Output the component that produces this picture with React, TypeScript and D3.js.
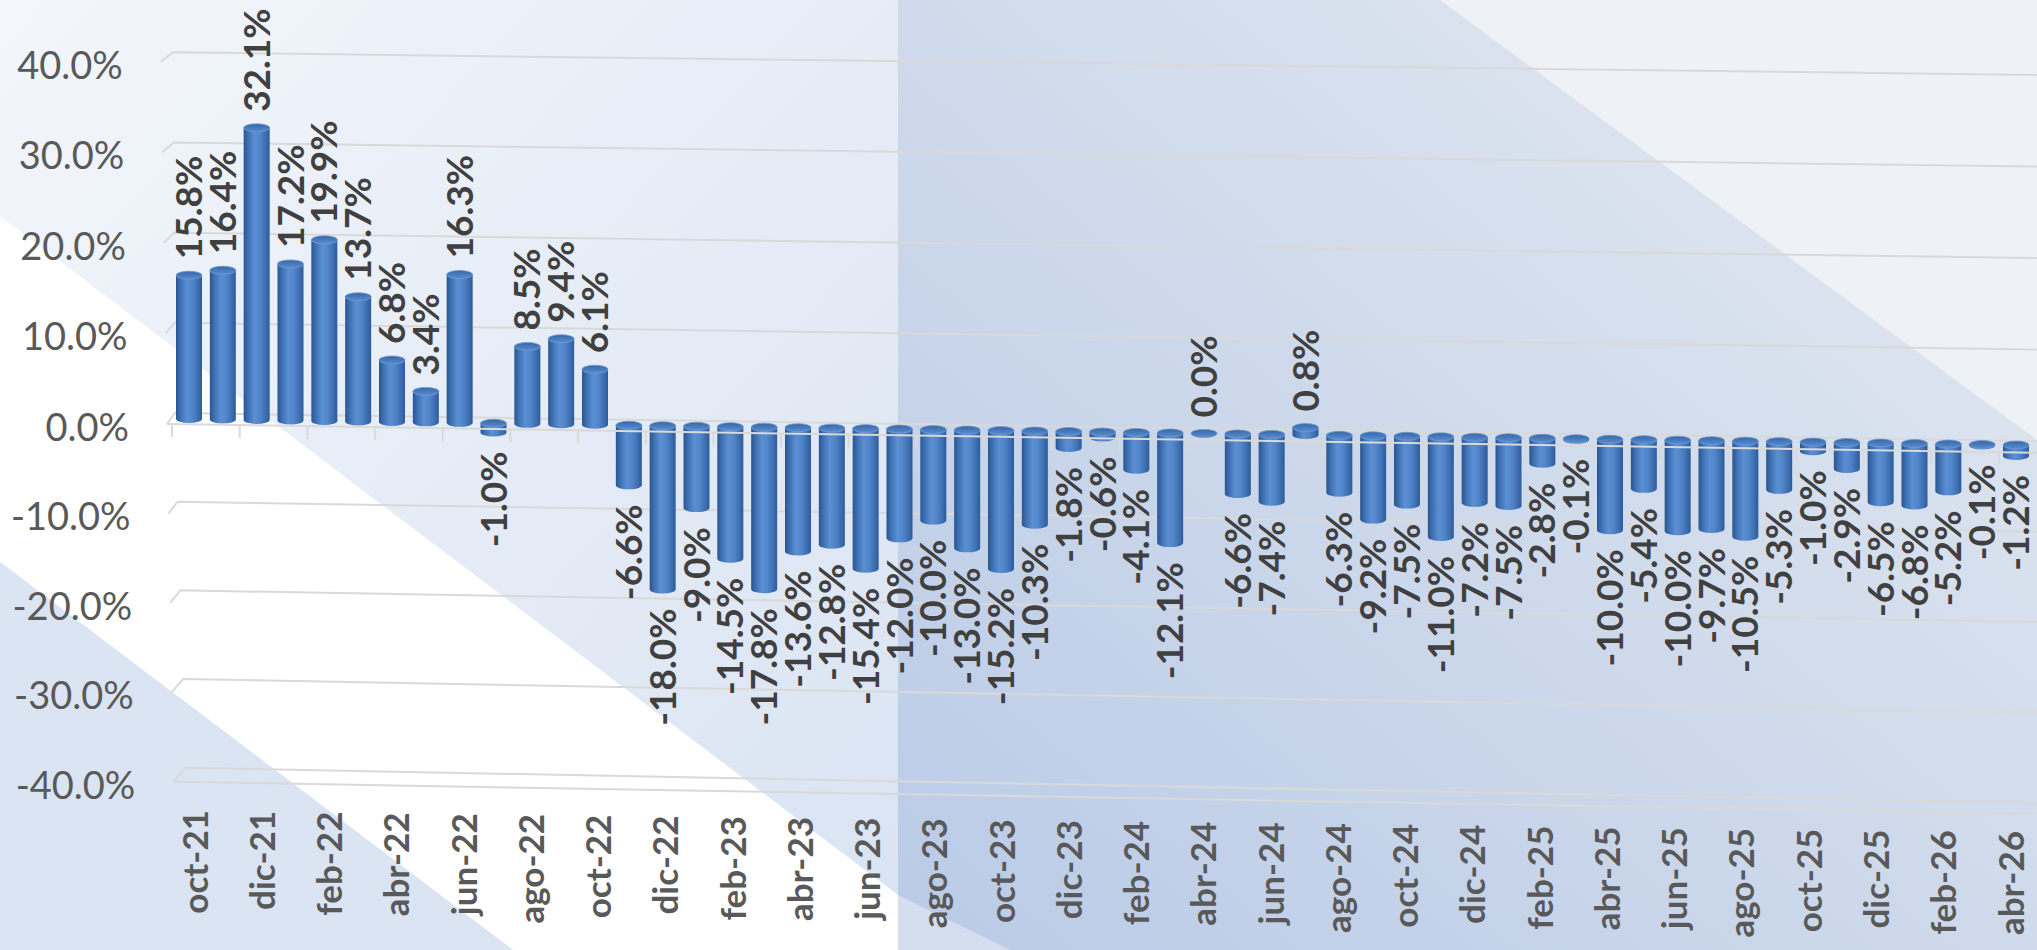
import * as d3 from 'd3'

// monthly year-over-year change, oct-21 .. abr-26
const months = [
  'oct-21', 'nov-21', 'dic-21',
  'ene-22', 'feb-22', 'mar-22', 'abr-22', 'may-22', 'jun-22', 'jul-22', 'ago-22', 'sep-22', 'oct-22', 'nov-22', 'dic-22',
  'ene-23', 'feb-23', 'mar-23', 'abr-23', 'may-23', 'jun-23', 'jul-23', 'ago-23', 'sep-23', 'oct-23', 'nov-23', 'dic-23',
  'ene-24', 'feb-24', 'mar-24', 'abr-24', 'may-24', 'jun-24', 'jul-24', 'ago-24', 'sep-24', 'oct-24', 'nov-24', 'dic-24',
  'ene-25', 'feb-25', 'mar-25', 'abr-25', 'may-25', 'jun-25', 'jul-25', 'ago-25', 'sep-25', 'oct-25', 'nov-25', 'dic-25',
  'ene-26', 'feb-26', 'mar-26', 'abr-26',
]
const values = [
  15.8, 16.4, 32.1,
  17.2, 19.9, 13.7, 6.8, 3.4, 16.3, -1.0, 8.5, 9.4, 6.1, -6.6, -18.0,
  -9.0, -14.5, -17.8, -13.6, -12.8, -15.4, -12.0, -10.0, -13.0, -15.2, -10.3, -1.8,
  -0.6, -4.1, -12.1, 0.0, -6.6, -7.4, 0.8, -6.3, -9.2, -7.5, -11.0, -7.2,
  -7.5, -2.8, -0.1, -10.0, -5.4, -10.0, -9.7, -10.5, -5.3, -1.0, -2.9, -6.5,
  -6.8, -5.2, -0.1, -1.2,
]
const yTicks = [40, 30, 20, 10, 0, -10, -20, -30, -40]

const W = 2037
const H = 950
const fmt = (v: number) => v.toFixed(1) + '%'

export default function App() {
  const n = months.length
  // bar centers / baseline (perspective floor slopes down to the right)
  const x = d3.scaleLinear().domain([0, n - 1]).range([189, 2016])
  const zeroY = d3.scaleLinear().domain([0, n - 1]).range([419, 445])
  const h = d3.scaleLinear().domain([0, 10]).range([0, 91])
  const labelX = d3.scaleLinear().domain([0, n - 1]).range([195, 2011])
  const labelTop = d3.scaleLinear().domain([0, n - 1]).range([810, 831])

  // walls: front corner of side wall, back corner, right end of back wall line
  const frontX = d3.scaleLinear().domain([-40, 40]).range([173.3, 160.7])
  const frontY = d3.scaleLinear().domain([-40, 0, 40]).range([781.7, 424, 61.7])
  const backX = d3.scaleLinear().domain([-40, 0, 40]).range([185.7, 175, 173.3])
  const backY = d3.scaleLinear().domain([-40, 0, 40]).range([767.7, 413, 52.3])
  const rightY = d3.scaleLinear().domain([-40, 0, 40]).range([803, 441, 75])
  const frontRightY = d3.scaleLinear().domain([-40, 0]).range([813.5, 452.7])
  const frontZero = d3.scaleLinear().domain([frontX(0), W]).range([frontY(0), frontRightY(0)])

  const r = 13
  const ry = 4

  const bars = values.map((v, i) => {
    const cx = x(i)
    const base = zeroY(i)
    const top = v >= 0 ? base - h(v) : base
    const bot = v >= 0 ? base : base + h(-v)
    const body = `M${cx - r},${top} L${cx - r},${bot} A${r},${ry} 0 0 0 ${cx + r},${bot} L${cx + r},${top} Z`
    return { i, v, cx, top, bot, body }
  })

  const gridPath = (v: number) =>
    `M${frontX(v)},${frontY(v)} L${backX(v)},${backY(v)} L${W},${rightY(v)}`

  const tickIdx = d3.range(0, n, 2)

  return (
    <svg width={W} height={H} style={{ position: 'absolute', left: 0, top: 0 }}
      fontFamily="Lato, 'Open Sans', sans-serif">
      <defs>
        <linearGradient id="bgLeft" x1="0" y1="0" x2="1" y2="1">
          <stop offset="0" stopColor="#f3f6fb" />
          <stop offset="1" stopColor="#d9e3f2" />
        </linearGradient>
        <linearGradient id="bgRight" x1="0" y1="1" x2="1" y2="0">
          <stop offset="0" stopColor="#bacbe7" />
          <stop offset="0.6" stopColor="#d3ddec" />
          <stop offset="1" stopColor="#e6ebf3" />
        </linearGradient>
        <linearGradient id="cyl" x1="0" y1="0" x2="1" y2="0">
          <stop offset="0" stopColor="#2a5591" />
          <stop offset="0.18" stopColor="#3e72b4" />
          <stop offset="0.42" stopColor="#5b8fd3" />
          <stop offset="0.62" stopColor="#5286cb" />
          <stop offset="0.85" stopColor="#3d6eb0" />
          <stop offset="1" stopColor="#2d5b99" />
        </linearGradient>
        <linearGradient id="cap" x1="0" y1="0" x2="0" y2="1">
          <stop offset="0" stopColor="#3767a6" />
          <stop offset="1" stopColor="#5a8ccf" />
        </linearGradient>
      </defs>

      {/* background */}
      <rect x={0} y={0} width={898} height={H} fill="url(#bgLeft)" />
      <polygon points="0,216 898,895 898,950 513,950 0,562" fill="#ffffff" />
      <polygon points="0,562 513,950 0,950" fill="#dae4f3" />
      <rect x={898} y={0} width={W - 898} height={H} fill="url(#bgRight)" />
      <polygon points={`1440,0 ${W},0 ${W},440`} fill="#eef1f5" />
      <polygon points="898,895 1010,950 898,950" fill="#d4deef" />

      {/* gridlines on side wall and back wall */}
      <g fill="none" stroke="#d9d9d9" strokeWidth={2}>
        {yTicks.map(v => <path key={v} d={gridPath(v)} />)}
        <path d={`M${frontX(-40)},${frontY(-40)} L${W},${frontRightY(-40)}`} />
      </g>

      {/* y axis labels */}
      <g fill="#595959" fontSize={38} textAnchor="end">
        {yTicks.map(v => (
          <text key={v} x={frontX(v) - 38} y={frontY(v) + 2} dominantBaseline="central">
            {fmt(v)}
          </text>
        ))}
      </g>

      {/* cylinders */}
      <g>
        {bars.map(b => (
          <g key={b.i}>
            <path d={b.body} fill="url(#cyl)" />
            <ellipse cx={b.cx} cy={b.top} rx={r} ry={ry} fill="url(#cap)" stroke="#6d9bd6" strokeWidth={0.8} />
          </g>
        ))}
      </g>

      {/* floor front edge at zero and tick marks */}
      <g stroke="#d9d9d9" strokeWidth={2} fill="none">
        <path d={`M${frontX(0)},${frontY(0)} L${W},${frontRightY(0)}`} />
        {tickIdx.map(i => {
          const tx = x(i - 0.5)
          const ty = frontZero(tx)
          return <line key={i} x1={tx} x2={tx} y1={ty} y2={ty + 13} />
        })}
      </g>

      {/* data labels */}
      <g fill="#404040" fontSize={37} fontWeight="bold">
        {bars.map(b => (
          b.v >= 0 ? (
            <text key={b.i} textAnchor="start"
              transform={`translate(${b.cx + 13},${b.top - ry - 12}) rotate(-90)`}>
              {fmt(b.v)}
            </text>
          ) : (
            <text key={b.i} textAnchor="end"
              transform={`translate(${b.cx + 13},${b.bot + ry + 15}) rotate(-90)`}>
              {fmt(b.v)}
            </text>
          )
        ))}
      </g>

      {/* category labels */}
      <g fill="#595959" fontSize={35} fontWeight="bold" textAnchor="end">
        {tickIdx.map(i => (
          <text key={i} transform={`translate(${labelX(i) + 12.5},${labelTop(i)}) rotate(-90)`}>
            {months[i]}
          </text>
        ))}
      </g>
    </svg>
  )
}
